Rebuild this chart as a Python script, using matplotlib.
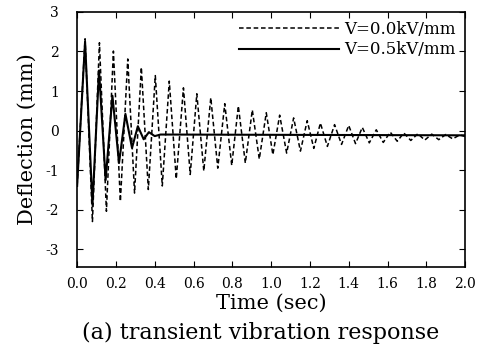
import numpy as np
import matplotlib
matplotlib.use('Agg')
import matplotlib.pyplot as plt

# extrema of the response curves (time in sec, deflection in mm)
# V = 0.0 kV/mm : peaks and troughs
t_peak0 = [0.041, 0.115, 0.187, 0.261, 0.331, 0.403, 0.475, 0.548, 0.617, 0.689,
           0.761, 0.831, 0.903, 0.975, 1.044, 1.116, 1.186, 1.254, 1.327, 1.400,
           1.470, 1.542, 1.614, 1.684, 1.756, 1.828, 1.900, 1.972]
y_peak0 = [2.32, 2.22, 2.01, 1.81, 1.60, 1.39, 1.25, 1.08, 0.93, 0.83,
           0.68, 0.62, 0.52, 0.45, 0.39, 0.32, 0.25, 0.19, 0.15, 0.13,
           0.08, 0.02, -0.04, -0.06, -0.08, -0.09, -0.10, -0.11]
t_trough0 = [0.079, 0.151, 0.223, 0.296, 0.367, 0.439, 0.511, 0.583, 0.653, 0.725,
             0.797, 0.867, 0.939, 1.009, 1.080, 1.151, 1.220, 1.290, 1.363, 1.435,
             1.506, 1.578, 1.650, 1.720, 1.792, 1.864, 1.936]
y_trough0 = [-2.30, -2.04, -1.79, -1.58, -1.49, -1.40, -1.22, -1.11, -1.02, -0.95,
             -0.88, -0.82, -0.72, -0.61, -0.57, -0.52, -0.45, -0.40, -0.35, -0.33,
             -0.31, -0.30, -0.27, -0.25, -0.24, -0.23, -0.21]
t_start, y_start = 0.0, -1.4
t_end0, y_end0 = 2.0, -0.15

# V = 0.5 kV/mm : extrema then settled value
t_ext5 = [0.0, 0.041, 0.079, 0.113, 0.147, 0.182, 0.216, 0.249, 0.283, 0.313,
          0.343, 0.370, 0.400, 0.430, 2.0]
y_ext5 = [-1.4, 2.25, -1.88, 1.52, -1.25, 0.88, -0.82, 0.42, -0.44, 0.11,
          -0.22, -0.04, -0.14, -0.10, -0.12]

# merge peaks and troughs in time order
t0 = np.concatenate([[t_start], t_peak0, t_trough0, [t_end0]])
y0 = np.concatenate([[y_start], y_peak0, y_trough0, [y_end0]])
order = np.argsort(t0)
t0, y0 = t0[order], y0[order]

plt.rcParams['font.family'] = ['DejaVu Serif']

fig = plt.figure(figsize=(4.82, 3.5), dpi=100)
ax = fig.add_axes([0.160, 0.237, 0.805, 0.729])

ax.plot(t0, y0, color='black', linewidth=1.1, linestyle=(0, (3, 1.8)),
        label='V=0.0kV/mm')
ax.plot(t_ext5, y_ext5, color='black', linewidth=1.5, label='V=0.5kV/mm')

ax.set_xlim(0, 2.0)
ax.set_ylim(-3.45, 3.0)
ax.set_xticks(np.arange(0, 2.01, 0.2))
ax.set_xticklabels(['%.1f' % v for v in np.arange(0, 2.01, 0.2)])
ax.set_yticks([-3, -2, -1, 0, 1, 2, 3])
ax.set_yticklabels(['-3', '-2', '-1', '0', '1', '2', '3'])
ax.tick_params(direction='in', top=True, right=True, length=4, width=0.8,
               labelsize=10)
ax.tick_params(axis='x', pad=7)
ax.tick_params(axis='y', pad=13)
for s in ax.spines.values():
    s.set_linewidth(1.2)

ax.set_xlabel('Time (sec)', fontsize=15, labelpad=2)
ax.set_ylabel('Deflection (mm)', fontsize=15, labelpad=6)

ax.legend(loc='upper right', frameon=False, fontsize=12, handlelength=6.0,
          handletextpad=0.3, borderaxespad=0.15, labelspacing=0.2)

fig.text(0.54, 0.03, '(a) transient vibration response', ha='center',
         fontsize=16)

fig.savefig('out.png', dpi=100)
